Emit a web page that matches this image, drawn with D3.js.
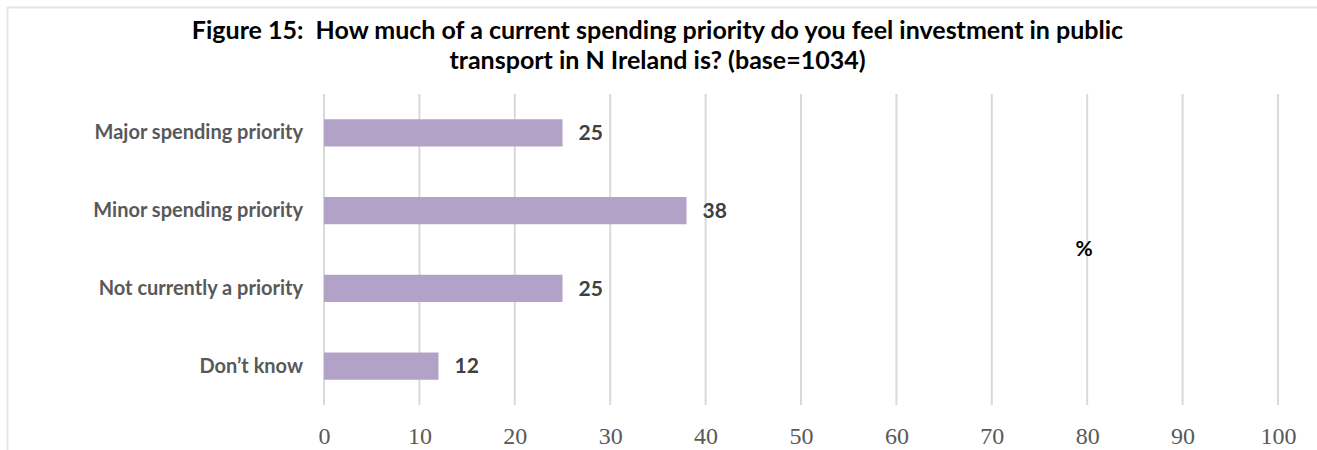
<!DOCTYPE html>
<html>
<head>
<meta charset="utf-8">
<script src="https://cdn.jsdelivr.net/npm/d3@7"></script>
<style>
  html, body { margin: 0; padding: 0; background: #fff; overflow: hidden; }
  svg { display: block; }
</style>
</head>
<body>
<svg id="chart" width="1317" height="450"></svg>
<script>
// Survey responses (% of base=1034)
const categories = ["Major spending priority", "Minor spending priority", "Not currently a priority", "Don\u2019t know"];
const values = [25, 38, 25, 12];
const tickValues = [0, 10, 20, 30, 40, 50, 60, 70, 80, 90, 100];
const titleLines = [
  "Figure 15:  How much of a current spending priority do you feel investment in public",
  "transport in N Ireland is? (base=1034)"
];

const W = 1317, H = 450;
const svg = d3.select("#chart");
const sans = "Lato, 'Open Sans', sans-serif";

// chart frame (top and left edges visible)
svg.append("path")
  .attr("d", `M7.5,${H} V7.5 H${W}`)
  .attr("fill", "none").attr("stroke", "#e9e6dd").attr("stroke-width", 2);

const plot = { left: 324, right: 1278, top: 94, bottom: 405 };

const x = d3.scaleLinear().domain([0, 100]).range([plot.left, plot.right]);
const y = d3.scaleBand().domain(categories).range([plot.top, plot.bottom]).paddingInner(0.65).paddingOuter(0.325);

// vertical gridlines
svg.append("g")
  .selectAll("line")
  .data(tickValues)
  .join("line")
  .attr("x1", d => x(d)).attr("x2", d => x(d))
  .attr("y1", plot.top).attr("y2", plot.bottom)
  .attr("stroke", "#d9d9d9").attr("stroke-width", 2);

// x axis labels
const xAxis = d3.axisBottom(x).tickValues(tickValues).tickSize(0).tickPadding(0);
const gx = svg.append("g").attr("transform", `translate(0,${plot.bottom + 22})`).call(xAxis);
gx.select(".domain").remove();
gx.selectAll("text")
  .attr("dy", "0.71em")
  .attr("fill", "#595959")
  .style("font-family", "'Liberation Serif', 'DejaVu Serif', serif")
  .style("font-size", "24px");

// y axis labels
const yAxis = d3.axisLeft(y).tickSize(0).tickPadding(0);
const gy = svg.append("g").attr("transform", `translate(${plot.left - 21},0)`).call(yAxis);
gy.select(".domain").remove();
gy.selectAll("text")
  .attr("fill", "#595959")
  .style("font-family", sans)
  .style("font-weight", "bold")
  .style("font-size", "20px");

// bars
svg.append("g")
  .selectAll("rect")
  .data(categories)
  .join("rect")
  .attr("x", x(0))
  .attr("y", d => y(d))
  .attr("width", (d, i) => x(values[i]) - x(0))
  .attr("height", y.bandwidth())
  .attr("fill", "#b3a2c7");

// value labels
svg.append("g")
  .selectAll("text")
  .data(categories)
  .join("text")
  .attr("x", (d, i) => x(values[i]) + 16)
  .attr("y", d => y(d) + y.bandwidth() / 2)
  .attr("dy", "0.35em")
  .attr("fill", "#404040")
  .style("font-family", sans)
  .style("font-weight", "bold")
  .style("font-size", "21px")
  .text((d, i) => values[i]);

// unit marker
svg.append("text")
  .attr("x", 1084).attr("y", 249).attr("dy", "0.35em")
  .attr("text-anchor", "middle")
  .attr("fill", "#000")
  .style("font-family", sans)
  .style("font-weight", "bold")
  .style("font-size", "21px")
  .text("%");

// title
svg.append("g")
  .selectAll("text")
  .data(titleLines)
  .join("text")
  .attr("x", 657.5)
  .attr("y", (d, i) => 30 + i * 30)
  .attr("dy", "0.35em")
  .attr("text-anchor", "middle")
  .attr("fill", "#000")
  .style("white-space", "pre")
  .style("font-family", sans)
  .style("font-weight", "bold")
  .style("font-size", "25px")
  .text(d => d);
</script>
</body>
</html>
